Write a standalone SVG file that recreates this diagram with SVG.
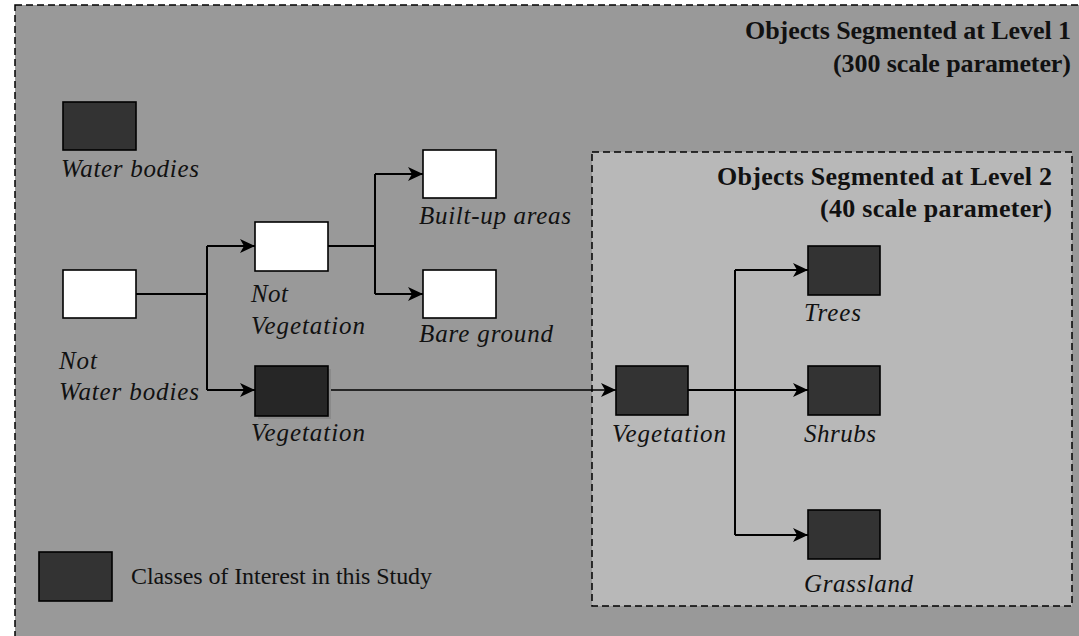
<svg xmlns="http://www.w3.org/2000/svg" width="1079" height="636" viewBox="0 0 1079 636">
<style>
.dark{fill:#333333;stroke:#000;stroke-width:1.6}
.white{fill:#ffffff;stroke:#000;stroke-width:1.6}
.lbl{font-family:"Liberation Serif","Times New Roman",serif;font-style:italic;font-size:25px;fill:#111}
.ttl{font-family:"Liberation Serif","Times New Roman",serif;font-weight:bold;font-size:26px;fill:#111;text-anchor:end}
.leg{font-family:"Liberation Serif","Times New Roman",serif;font-size:24px;fill:#111}
.con{fill:none;stroke:#000;stroke-width:2}
</style>
<defs>
<marker id="arr" markerUnits="userSpaceOnUse" markerWidth="16" markerHeight="14" refX="15" refY="7" orient="auto">
<path d="M0,0 L15,7 L0,14 L4,7 z" fill="#000"/>
</marker>
</defs>
<rect x="0" y="0" width="1079" height="636" fill="#ffffff"/>
<g id="level1">
<rect x="15" y="5" width="1080" height="650" fill="#999999" stroke="#000" stroke-width="1.5" stroke-dasharray="7,4"/>
<text class="ttl" x="1071" y="39" textLength="326">Objects Segmented at Level 1</text>
<text class="ttl" x="1071" y="72" textLength="238">(300 scale parameter)</text>
</g>
<g id="level2">
<rect x="592" y="152" width="480" height="454" fill="#b8b8b8" stroke="#000" stroke-width="1.5" stroke-dasharray="7,4"/>
<text class="ttl" x="1052" y="185" textLength="335">Objects Segmented at Level 2</text>
<text class="ttl" x="1052" y="217" textLength="232">(40 scale parameter)</text>
</g>
<g id="connectors">
<path class="con" d="M136,294 H207 M207,246 V390"/>
<path class="con" d="M207,246 H255" marker-end="url(#arr)"/>
<path class="con" d="M207,390 H255" marker-end="url(#arr)"/>
<path class="con" d="M328,246 H375 M375,174 V294"/>
<path class="con" d="M375,174 H423" marker-end="url(#arr)"/>
<path class="con" d="M375,294 H423" marker-end="url(#arr)"/>
<path class="con" style="stroke-width:1.6" d="M328,390 H616" marker-end="url(#arr)"/>
<path class="con" d="M688,390 H735 M735,270 V535"/>
<path class="con" d="M735,270 H808" marker-end="url(#arr)"/>
<path class="con" d="M735,390 H808" marker-end="url(#arr)"/>
<path class="con" d="M735,535 H808" marker-end="url(#arr)"/>
</g>
<g id="water-bodies">
<rect class="dark" x="63" y="102" width="73" height="48"/>
<text class="lbl" x="61" y="177" textLength="138">Water bodies</text>
</g>
<g id="not-water-bodies">
<rect class="white" x="63" y="270" width="73" height="48"/>
<text class="lbl" x="59" y="369" textLength="38">Not</text>
<text class="lbl" x="59" y="400" textLength="140">Water bodies</text>
</g>
<g id="not-vegetation">
<rect class="white" x="255" y="222" width="73" height="49"/>
<text class="lbl" x="251" y="302" textLength="37">Not</text>
<text class="lbl" x="251" y="334" textLength="114">Vegetation</text>
</g>
<g id="vegetation-l1">
<rect x="258" y="369" width="73" height="50" fill="#8a8a8a"/>
<rect x="255" y="366" width="73" height="50" fill="#262626" stroke="#000" stroke-width="1.6"/>
<text class="lbl" x="251" y="441" textLength="114">Vegetation</text>
</g>
<g id="built-up">
<rect class="white" x="423" y="150" width="73" height="48"/>
<text class="lbl" x="419" y="224" textLength="152">Built-up areas</text>
</g>
<g id="bare-ground">
<rect class="white" x="423" y="270" width="73" height="48"/>
<text class="lbl" x="419" y="342" textLength="134">Bare ground</text>
</g>
<g id="vegetation-l2">
<rect class="dark" x="616" y="366" width="72" height="49"/>
<text class="lbl" x="612" y="442" textLength="114">Vegetation</text>
</g>
<g id="trees">
<rect class="dark" x="808" y="246" width="72" height="49"/>
<text class="lbl" x="804" y="321" textLength="57">Trees</text>
</g>
<g id="shrubs">
<rect class="dark" x="808" y="366" width="72" height="49"/>
<text class="lbl" x="804" y="442" textLength="72">Shrubs</text>
</g>
<g id="grassland">
<rect class="dark" x="808" y="510" width="72" height="49"/>
<text class="lbl" x="804" y="592" textLength="109">Grassland</text>
</g>
<g id="legend">
<rect class="dark" x="39" y="552" width="73" height="49"/>
<text class="leg" x="131" y="584" textLength="301">Classes of Interest in this Study</text>
</g>
</svg>
